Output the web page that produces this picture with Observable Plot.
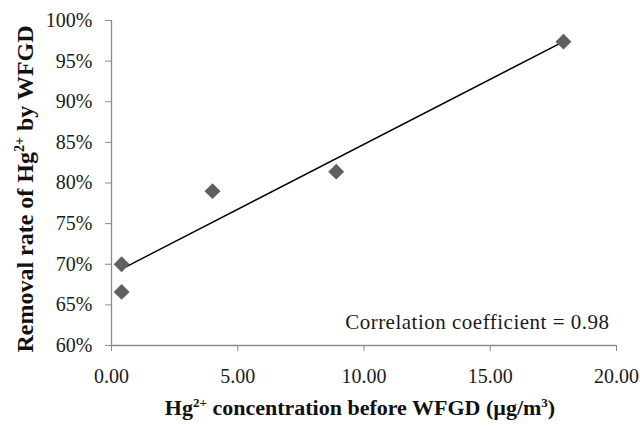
<!DOCTYPE html>
<html>
<head>
<meta charset="utf-8">
<script src="https://cdn.jsdelivr.net/npm/d3@7"></script>
<script src="https://cdn.jsdelivr.net/npm/@observablehq/plot@0.6"></script>
<style>
  html, body { margin: 0; padding: 0; background: #fff; }
  #chart svg { display: block; font-family: "Liberation Serif", serif !important; }
  #chart svg text { font-family: "Liberation Serif", serif !important; }
</style>
</head>
<body>
<div id="chart"></div>
<script>
// Data
const concentration = [0.4, 0.4, 4.0, 8.9, 17.9];      // Hg2+ before WFGD (µg/m3)
const removal = [66.6, 70.0, 79.0, 81.4, 97.4];        // removal rate (%)
const xTicks = [0, 5, 10, 15, 20];
const yTicks = [60, 65, 70, 75, 80, 85, 90, 95, 100];
const note = ["Correlation coefficient = 0.98"];

const data = concentration.map((c, i) => ({x: c, y: removal[i]}));

const font = "Liberation Serif";

const plot = Plot.plot({
  width: 640,
  height: 426,
  marginLeft: 111,
  marginRight: 24,
  marginTop: 20,
  marginBottom: 81,
  style: {fontSize: "20px", background: "#fff"},
  x: {domain: [0, 20]},
  y: {domain: [60, 100]},
  marks: [
    Plot.ruleX([0], {stroke: "#8a8a8a", strokeWidth: 1.3}),
    Plot.ruleY([60], {stroke: "#8a8a8a", strokeWidth: 1.3}),
    Plot.axisX({ticks: xTicks, tickSize: 6, color: "#8a8a8a", text: null, label: null}),
    Plot.axisX({ticks: xTicks, tickSize: 0, tickPadding: 23, tickFormat: d3.format(".2f"), color: "#1a1a1a", fontSize: 20, fontFamily: font, label: null}),
    Plot.axisY({ticks: yTicks, tickSize: 6, color: "#8a8a8a", text: null, label: null}),
    Plot.axisY({ticks: yTicks, tickSize: 0, tickPadding: 19, tickFormat: d => d + "%", color: "#1a1a1a", fontSize: 20, fontFamily: font, label: null}),
    Plot.linearRegressionY(data, {x: "x", y: "y", ci: 0, stroke: "#000", strokeWidth: 1.4}),
    Plot.dot(data, {x: "x", y: "y", symbol: "diamond2", r: 7.2, fill: "#5f5f5f", stroke: "none"}),
    Plot.text(note, {frameAnchor: "bottom-right", dx: -7, dy: -17, lineAnchor: "bottom", fill: "#1a1a1a", fontSize: 21, fontFamily: font})
  ]
});

document.getElementById("chart").appendChild(plot);

const svg = d3.select(plot);
svg.selectAll('g[aria-label="text"] text').attr("letter-spacing", "0.5px");

// X axis title
const xt = svg.append("text")
  .attr("x", 360).attr("y", 415)
  .attr("text-anchor", "middle")
  .attr("font-family", font).attr("font-weight", "bold").attr("font-size", 22)
  .attr("fill", "#111");
xt.append("tspan").text("Hg");
xt.append("tspan").attr("font-size", 13).attr("dy", -8).text("2+");
xt.append("tspan").attr("dy", 8).text(" concentration before WFGD (µg/m");
xt.append("tspan").attr("font-size", 13).attr("dy", -8).text("3");
xt.append("tspan").attr("dy", 8).text(")");

// Y axis title
const yt = svg.append("text")
  .attr("transform", "translate(33,189) rotate(-90)")
  .attr("text-anchor", "middle")
  .attr("font-family", font).attr("font-weight", "bold").attr("font-size", 24)
  .attr("fill", "#111");
yt.append("tspan").text("Removal rate of Hg");
yt.append("tspan").attr("font-size", 14).attr("dy", -9).text("2+");
yt.append("tspan").attr("dy", 9).text(" by WFGD");
</script>
</body>
</html>
